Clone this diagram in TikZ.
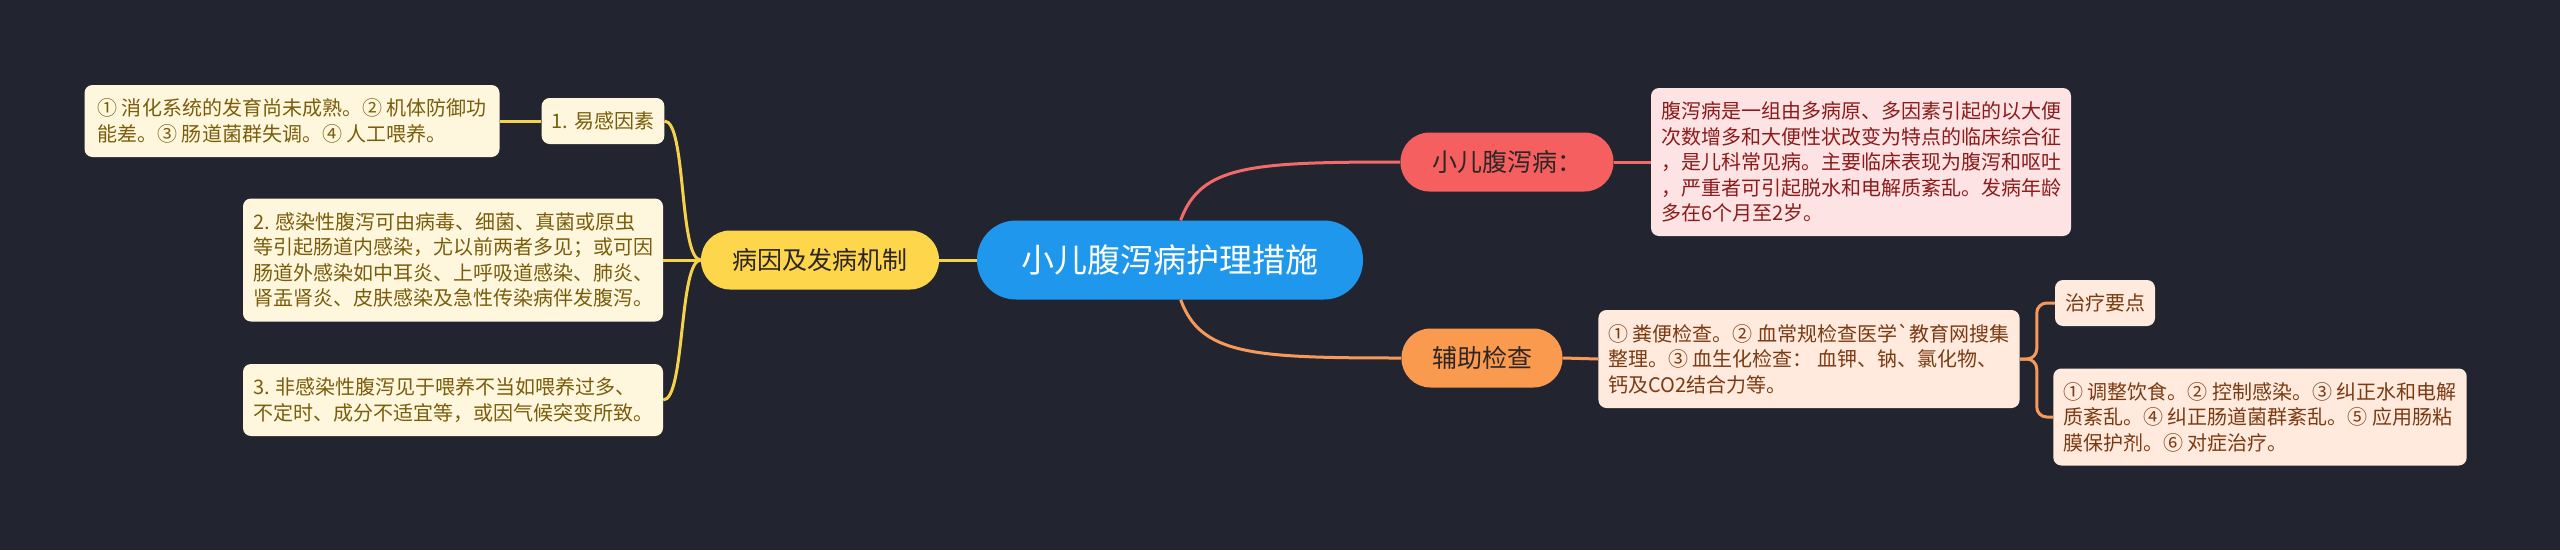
\documentclass[tikz,border=0pt]{standalone}
\usepackage{fontspec}
\newfontfamily\cjk{Noto Sans CJK SC}
\definecolor{bgcol}{HTML}{222530}
\definecolor{rootfill}{HTML}{1E97EC}
\definecolor{yelfill}{HTML}{FDD64B}
\definecolor{yelbox}{HTML}{FFF7DD}
\definecolor{yeltext}{HTML}{7A5D0C}
\definecolor{redfill}{HTML}{F65F5F}
\definecolor{redbox}{HTML}{FDE3E3}
\definecolor{redtext}{HTML}{8C1B1B}
\definecolor{orgfill}{HTML}{F99A4E}
\definecolor{orgbox}{HTML}{FFEADD}
\definecolor{orgtext}{HTML}{7B3A12}
\definecolor{yelline}{HTML}{F6D24A}
\definecolor{redline}{HTML}{F26A6A}
\definecolor{orgline}{HTML}{F6995A}
\definecolor{darktext}{HTML}{2E2626}
\tikzset{
  topic/.style={rectangle, rounded corners=39pt, fill=rootfill, text=white,
    font=\cjk\fontsize{33}{40}\selectfont, minimum width=386pt,
    minimum height=79pt, inner sep=0pt},
  branch/.style={rectangle, rounded corners=29pt, minimum height=59pt,
    inner sep=0pt, text=darktext, font=\cjk\fontsize{25}{30}\selectfont},
  leaf/.style={rectangle, rounded corners=8pt, inner xsep=10pt, inner ysep=0pt,
    align=left, font=\cjk\fontsize{20}{25.5}\selectfont},
  yleaf/.style={leaf, fill=yelbox, text=yeltext},
  rleaf/.style={leaf, fill=redbox, text=redtext},
  oleaf/.style={leaf, fill=orgbox, text=orgtext},
}
\begin{document}
\begin{tikzpicture}[x=1pt, y=-1pt]
      \useasboundingbox (0,0) rectangle (2560,550);
      \fill[bgcol] (0,0) rectangle (2560,550);
      \draw
        (1170,260) node[topic] (root){小儿腹泻病护理措施}
        (820,260) node[branch, fill=yelfill, minimum width=238pt] (cause){病因及发病机制}
        (603,121) node[yleaf, minimum width=121pt, minimum height=46pt] (susc){1. 易感因素}
        (292,121) node[yleaf, minimum width=415pt, minimum height=72pt] (suscd){① 消化系统的发育尚未成熟。② 机体防御功\\能差。③ 肠道菌群失调。④ 人工喂养。}
        (453,260) node[yleaf, minimum width=419pt, minimum height=123pt] (infect){2. 感染性腹泻可由病毒、细菌、真菌或原虫\\等引起肠道内感染，尤以前两者多见；或可因\\肠道外感染如中耳炎、上呼吸道感染、肺炎、\\肾盂肾炎、皮肤感染及急性传染病伴发腹泻。}
        (453,400) node[yleaf, minimum width=419pt, minimum height=72pt] (nonin){3. 非感染性腹泻见于喂养不当如喂养过多、\\不定时、成分不适宜等，或因气候突变所致。}
        (1507,162) node[branch, fill=redfill, minimum width=213pt] (ill){小儿腹泻病：}
        (1861,162) node[rleaf, minimum width=418pt, minimum height=148pt] (illd){腹泻病是一组由多病原、多因素引起的以大便\\次数增多和大便性状改变为特点的临床综合征\\，是儿科常见病。主要临床表现为腹泻和呕吐\\，严重者可引起脱水和电解质紊乱。发病年龄\\多在6个月至2岁。}
        (1482,358) node[branch, fill=orgfill, minimum width=161pt] (exam){辅助检查}
        (1809,359) node[oleaf, minimum width=418pt, minimum height=98pt] (examd){① 粪便检查。② 血常规检查医学\textasciigrave 教育网搜集\\整理。③ 血生化检查：\ 血钾、钠、氯化物、\\钙及CO2结合力等。}
        (2105,303) node[oleaf, minimum width=98pt, minimum height=46pt] (treat){治疗要点}
        (2260,417) node[oleaf, minimum width=408pt, minimum height=97pt] (treatd){① 调整饮食。② 控制感染。③ 纠正水和电解\\质紊乱。④ 纠正肠道菌群紊乱。⑤ 应用肠粘\\膜保护剂。⑥ 对症治疗。};
      \begin{scope}[line width=3pt, yelline]
        \draw (root.west) to (cause.east);
        \draw (cause.west) to (infect.east);
        \draw (cause.west) .. controls +(-22,0) and +(22,0) .. (susc.east);
        \draw (cause.west) .. controls +(-22,0) and +(22,0) .. (nonin.east);
        \draw (susc.west) to (suscd.east);
      \end{scope}
      \begin{scope}[line width=3pt, redline]
        \draw (root.75) .. controls +(20,-55) and +(-150,0) .. (ill.west);
        \draw (ill.east) to (illd.west);
      \end{scope}
      \begin{scope}[line width=3pt, orgline]
        \draw (root.-75) .. controls +(20,55) and +(-150,0) .. (exam.west);
        \draw (exam.east) to (examd.west);
        \draw[rounded corners=10pt] (examd.east) -- ++(17,0) |- (treat.west);
        \draw[rounded corners=10pt] (examd.east) -- ++(17,0) |- (treatd.west);
      \end{scope}
    \end{tikzpicture}
\end{document}
